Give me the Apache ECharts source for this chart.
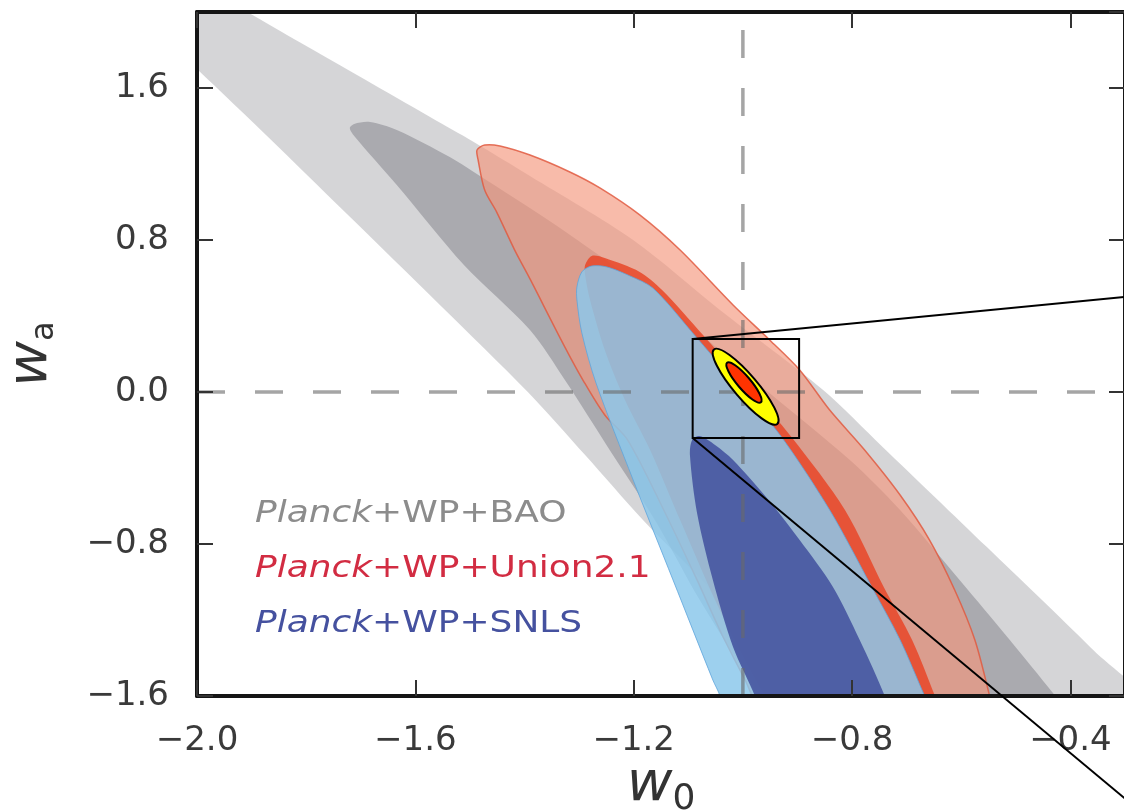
<!DOCTYPE html>
<html><head><meta charset="utf-8">
<script src="https://cdn.jsdelivr.net/npm/echarts@6/dist/echarts.min.js"></script>
<style>html,body{margin:0;padding:0;background:#fff}#c{width:1124px;height:812px}</style>
</head><body><div id="c"></div>
<script>
// ---- axes ----
const xRange = [-2.0, -0.3];
const yRange = [-1.6, 2.0];
const xInterval = 0.4;
const yInterval = 0.8;
const refW0 = -1.0;
const refWa = 0.0;

// ---- legend labels ----
const legendPrefix = 'Planck';
const legendSuffix = ['+WP+BAO', '+WP+Union2.1', '+WP+SNLS'];
const legendColors = ['#8c8c8c', '#d22c42', '#45519f'];

// ---- contours [w0, wa] ----
const baoOuter = [[-2.086,2.274],[-1.995,2.142],[-1.908,2.000],[-1.811,1.839],[-1.694,1.647],[-1.573,1.447],[-1.493,1.316],[-1.390,1.137],[-1.201,0.800],[-1.042,0.432],[-0.853,0.011],[-0.744,-0.289],[-0.553,-0.816],[-0.364,-1.342],[-0.200,-1.832],[-0.859,-1.832],[-0.914,-1.600],[-1.042,-1.095],[-1.183,-0.674],[-1.289,-0.332],[-1.394,0.000],[-1.555,0.458],[-1.729,0.947],[-1.866,1.332],[-2.000,1.700],[-2.086,1.932]];
const baoInner = [[-1.720,1.389],[-1.712,1.411],[-1.683,1.421],[-1.634,1.379],[-1.537,1.237],[-1.493,1.158],[-1.335,0.863],[-1.152,0.484],[-0.969,0.037],[-0.804,-0.358],[-0.712,-0.621],[-0.603,-0.989],[-0.511,-1.305],[-0.432,-1.584],[-0.364,-1.832],[-0.914,-1.832],[-0.969,-1.600],[-1.079,-1.095],[-1.158,-0.689],[-1.244,-0.305],[-1.326,0.063],[-1.390,0.326],[-1.511,0.668],[-1.634,1.089],[-1.712,1.347]];
const unionOuter = [[-1.487,1.274],[-1.473,1.300],[-1.445,1.295],[-1.390,1.247],[-1.317,1.158],[-1.262,1.074],[-1.189,0.932],[-1.115,0.747],[-1.018,0.458],[-0.951,0.274],[-0.896,0.116],[-0.841,-0.095],[-0.777,-0.305],[-0.712,-0.542],[-0.658,-0.779],[-0.612,-1.042],[-0.575,-1.305],[-0.548,-1.600],[-0.529,-1.832],[-0.947,-1.832],[-0.983,-1.600],[-0.996,-1.516],[-1.038,-1.279],[-1.084,-0.989],[-1.145,-0.621],[-1.211,-0.253],[-1.253,-0.121],[-1.293,0.063],[-1.328,0.247],[-1.390,0.595],[-1.418,0.747],[-1.451,0.947],[-1.473,1.063],[-1.485,1.221]];
const unionInner = [[-1.289,0.668],[-1.277,0.716],[-1.253,0.705],[-1.189,0.632],[-1.148,0.537],[-1.073,0.300],[-0.984,0.011],[-0.911,-0.237],[-0.813,-0.621],[-0.742,-1.026],[-0.690,-1.305],[-0.648,-1.600],[-0.617,-1.832],[-0.914,-1.832],[-0.960,-1.600],[-0.996,-1.411],[-1.051,-1.095],[-1.115,-0.674],[-1.170,-0.305],[-1.216,-0.042],[-1.253,0.221],[-1.280,0.484],[-1.289,0.616]];
const snlsOuter = [[-1.304,0.553],[-1.295,0.632],[-1.277,0.663],[-1.249,0.658],[-1.207,0.611],[-1.165,0.547],[-1.092,0.311],[-1.006,0.021],[-0.932,-0.226],[-0.841,-0.621],[-0.764,-1.026],[-0.712,-1.305],[-0.667,-1.600],[-0.630,-1.832],[-1.024,-1.832],[-1.042,-1.600],[-1.055,-1.516],[-1.128,-0.989],[-1.201,-0.463],[-1.269,0.047],[-1.295,0.311],[-1.304,0.484]];
const snlsInner = [[-1.097,-0.332],[-1.093,-0.253],[-1.079,-0.232],[-1.051,-0.279],[-1.018,-0.358],[-0.956,-0.558],[-0.896,-0.779],[-0.835,-1.026],[-0.786,-1.305],[-0.740,-1.600],[-0.712,-1.832],[-0.951,-1.832],[-0.978,-1.600],[-1.018,-1.342],[-1.055,-0.989],[-1.084,-0.637]];

// ---- zoom box, inset lines, forecast ellipses ----
const zoomBox = [[-1.092, 0.279], [-0.897, -0.242]];
const insetLines = [[[-1.092, 0.279], [-0.273, 0.508]], [[-1.092, -0.242], [-0.273, -2.205]]];
const ellipseCenters = [[-0.995, 0.028], [-0.998, 0.050]];
const ellipseMajorEnds = [[-0.937, -0.168], [-0.967, -0.054]];
const ellipseAxisRatios = [0.24, 0.25];
const ellipseFills = ['#ffff00', '#ff3300'];

const FONT = '"DejaVu Sans", "Liberation Sans", sans-serif';
const fmt = v => (Math.abs(v) < 1e-9 ? '0.0' : v.toFixed(1)).replace('-', '\u2212');

function poly(name, pts, fill, stroke, lw, z) {
  return {
    type: 'custom', name, coordinateSystem: 'cartesian2d', clip: true, z, silent: true, animation: false,
    data: pts,
    renderItem: (params, api) => {
      if (params.dataIndex !== 0) return null;
      return {
        type: 'polygon',
        shape: { points: pts.map(p => api.coord(p)), smooth: 0.3 },
        style: { fill, stroke: stroke || 'none', lineWidth: lw }
      };
    }
  };
}

const series = [
  poly('BAO 95%', baoOuter, 'rgba(150,150,156,0.40)', null, 0, 2),
  poly('BAO 68%', baoInner, 'rgba(118,118,126,0.45)', null, 0, 3),
  poly('Union2.1 95%', unionOuter, 'rgba(245,150,125,0.65)', 'rgba(225,90,65,0.85)', 1.5, 4),
  poly('Union2.1 68%', unionInner, 'rgba(232,70,40,0.85)', null, 0, 5),
  poly('SNLS 95%', snlsOuter, 'rgba(140,200,235,0.85)', 'rgba(95,165,220,0.8)', 1, 6),
  poly('SNLS 68%', snlsInner, 'rgba(70,85,160,0.90)', null, 0, 7),
  { type: 'line', data: [[refW0, yRange[0]], [refW0, yRange[1]]], symbol: 'none', silent: true, animation: false, z: 8,
    lineStyle: { color: 'rgba(105,105,105,0.6)', width: 3.5, type: [28, 30] } },
  { type: 'line', data: [[xRange[0], refWa], [xRange[1], refWa]], symbol: 'none', silent: true, animation: false, z: 8,
    lineStyle: { color: 'rgba(105,105,105,0.6)', width: 3.5, type: [28, 30] } },
  { type: 'custom', coordinateSystem: 'cartesian2d', z: 9, silent: true, animation: false, clip: false,
    data: zoomBox,
    renderItem: (params, api) => {
      if (params.dataIndex !== 0) return null;
      const a = api.coord(zoomBox[0]), b = api.coord(zoomBox[1]);
      return { type: 'rect', shape: { x: a[0], y: a[1], width: b[0] - a[0], height: b[1] - a[1] },
        style: { fill: 'none', stroke: '#000', lineWidth: 2 } };
    } },
  { type: 'custom', coordinateSystem: 'cartesian2d', z: 10, silent: true, animation: false, clip: false,
    data: ellipseCenters,
    renderItem: (params, api) => {
      const i = params.dataIndex;
      const c = api.coord(ellipseCenters[i]), e = api.coord(ellipseMajorEnds[i]);
      const dx = e[0] - c[0], dy = e[1] - c[1];
      const rx = Math.hypot(dx, dy);
      return { type: 'ellipse', x: c[0], y: c[1], rotation: -Math.atan2(dy, dx),
        shape: { cx: 0, cy: 0, rx, ry: rx * ellipseAxisRatios[i] },
        style: { fill: ellipseFills[i], stroke: '#000', lineWidth: 2 } };
    } },
  { type: 'custom', coordinateSystem: 'cartesian2d', z: 40, silent: true, animation: false, clip: false,
    data: insetLines.map(l => l[0]),
    renderItem: (params, api) => {
      const l = insetLines[params.dataIndex];
      const a = api.coord(l[0]), b = api.coord(l[1]);
      return { type: 'line', shape: { x1: a[0], y1: a[1], x2: b[0], y2: b[1] },
        style: { stroke: '#000', lineWidth: 2 } };
    } }
];

const axisLineStyle = { color: '#151515', width: 4 };
const tickStyle = { inside: true, length: 16, lineStyle: { color: '#333', width: 2 } };
const labelStyle = { fontSize: 34, color: '#3a3a3a', fontFamily: FONT, formatter: fmt, showMaxLabel: false };
const nameRich = (subSize, padTop) => ({
  w: { fontSize: 56, fontStyle: 'italic', fontFamily: FONT, color: '#333', lineHeight: 56 },
  s: { fontSize: subSize, fontFamily: FONT, color: '#333', lineHeight: subSize, padding: [padTop, 0, 0, 0] }
});

const option = {
  backgroundColor: '#fff',
  animation: false,
  grid: { left: 197, top: 12, width: 928, height: 684, show: false, containLabel: false, outerBoundsMode: 'none' },
  xAxis: [
    { type: 'value', position: 'bottom', min: xRange[0], max: xRange[1], interval: xInterval, z: 30,
      axisLine: { show: true, onZero: false, lineStyle: axisLineStyle }, axisTick: tickStyle,
      axisLabel: Object.assign({ margin: 28 }, labelStyle), splitLine: { show: false },
      name: '{w|w}{s|0}', nameLocation: 'middle', nameGap: 61, nameMoveOverlap: false,
      nameTextStyle: { rich: nameRich(36, 30) } },
    { type: 'value', position: 'top', min: xRange[0], max: xRange[1], interval: xInterval, z: 30,
      axisLine: { show: true, onZero: false, lineStyle: axisLineStyle }, axisTick: tickStyle,
      axisLabel: { show: false }, splitLine: { show: false } }
  ],
  yAxis: [
    { type: 'value', position: 'left', min: yRange[0], max: yRange[1], interval: yInterval, z: 30,
      axisLine: { show: true, onZero: false, lineStyle: axisLineStyle }, axisTick: tickStyle,
      axisLabel: Object.assign({ margin: 28 }, labelStyle), splitLine: { show: false },
      name: '{w|w}{s|a}', nameLocation: 'middle', nameRotate: 90, nameGap: 138, nameMoveOverlap: false,
      nameTextStyle: { rich: nameRich(32, 27) } },
    { type: 'value', position: 'right', min: yRange[0], max: yRange[1], interval: yInterval, z: 30,
      axisLine: { show: true, onZero: false, lineStyle: axisLineStyle }, axisTick: tickStyle,
      axisLabel: { show: false }, splitLine: { show: false } }
  ],
  graphic: legendSuffix.map((s, i) => ({
    type: 'text', x: 255, y: 514 + i * 55, z: 50, silent: true, scaleX: 1.16,
    style: {
      text: '{i|' + legendPrefix + '}' + s,
      fill: legendColors[i], fontSize: 31, fontFamily: FONT, verticalAlign: 'middle',
      rich: { i: { fontStyle: 'italic', fontSize: 31, fontFamily: FONT, fill: legendColors[i] } }
    }
  })),
  series
};

const chart = echarts.init(document.getElementById('c'), null, { renderer: 'canvas' });
chart.setOption(option);
</script></body></html>
